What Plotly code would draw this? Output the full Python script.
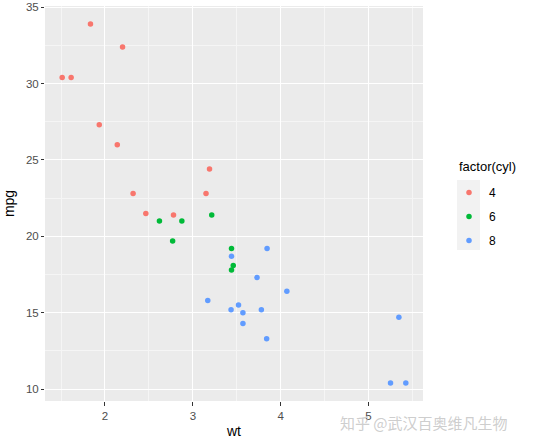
import plotly.graph_objects as go

wt = [2.620, 2.875, 2.320, 3.215, 3.440, 3.460, 3.570, 3.190, 3.150, 3.440, 3.440,
      4.070, 3.730, 3.780, 5.250, 5.424, 5.345, 2.200, 1.615, 1.835, 2.465, 3.520,
      3.435, 3.840, 3.845, 1.935, 2.140, 1.513, 3.170, 2.770, 3.570, 2.780]
mpg = [21.0, 21.0, 22.8, 21.4, 18.7, 18.1, 14.3, 24.4, 22.8, 19.2, 17.8,
       16.4, 17.3, 15.2, 10.4, 10.4, 14.7, 32.4, 30.4, 33.9, 21.5, 15.5,
       15.2, 13.3, 19.2, 27.3, 26.0, 30.4, 15.8, 19.7, 15.0, 21.4]
cyl = [6, 6, 4, 6, 8, 6, 8, 4, 4, 6, 6,
       8, 8, 8, 8, 8, 8, 4, 4, 4, 4, 8,
       8, 8, 8, 4, 4, 4, 8, 6, 8, 4]
levels = [4, 6, 8]
colors = {4: "#F8766D", 6: "#00BA38", 8: "#619CFF"}

W, H = 537, 445
ML, MR, MT, MB = 45, 114, 6, 44
PW, PH = W - ML - MR, H - MT - MB

def px(x):
    return (x - ML) / PW

def py(y):
    return (H - MB - y) / PH

fig = go.Figure()
for lv in levels:
    xs = [w for w, c in zip(wt, cyl) if c == lv]
    ys = [m for m, c in zip(mpg, cyl) if c == lv]
    fig.add_trace(go.Scatter(x=xs, y=ys, mode="markers", name=str(lv), legendgroup=str(lv),
                             marker=dict(color=colors[lv], size=5.5, line=dict(width=0))))

xr = [min(wt) - 0.05 * (max(wt) - min(wt)), max(wt) + 0.05 * (max(wt) - min(wt))]
yr = [min(mpg) - 0.05 * (max(mpg) - min(mpg)), max(mpg) + 0.05 * (max(mpg) - min(mpg))]

axis_common = dict(showline=False, zeroline=False, gridcolor="white", gridwidth=1.1,
                   ticks="outside", tickcolor="#333333", tickwidth=1,
                   automargin=False,
                   tickfont=dict(family="Liberation Sans, Arial", size=11.5, color="#4D4D4D"))

fig.update_layout(
    width=W, height=H,
    margin=dict(l=ML, r=MR, t=MT, b=MB),
    paper_bgcolor="white", plot_bgcolor="#EBEBEB",
    font=dict(family="Liberation Sans, Arial", color="black"),
    xaxis=dict(range=xr, dtick=1, tick0=0, ticklen=4,
               minor=dict(dtick=0.5, tick0=0, showgrid=True, gridcolor="#F5F5F5", gridwidth=0.6, ticks=""),
               title=dict(text="wt", font=dict(size=14), standoff=5), **axis_common),
    yaxis=dict(range=yr, dtick=5, tick0=0, ticklen=3,
               minor=dict(dtick=2.5, tick0=0, showgrid=True, gridcolor="#F5F5F5", gridwidth=0.6, ticks=""),
               title=dict(text="mpg", font=dict(size=14), standoff=8), **axis_common),
    legend=dict(x=px(449), xanchor="left", y=py(178), yanchor="top",
                bgcolor="rgba(0,0,0,0)", font=dict(size=12), itemsizing="trace",
                tracegroupgap=5, traceorder="grouped"),
    showlegend=True,
)

fig.add_annotation(text="factor(cyl)", xref="paper", yref="paper",
                   x=px(457), xanchor="left", y=py(167), yanchor="middle",
                   showarrow=False, font=dict(size=13, color="black"))

fig.add_shape(type="rect", xref="paper", yref="paper",
              x0=px(457), x1=px(480), y0=py(250), y1=py(180),
              fillcolor="#F2F2F2", line=dict(width=0), layer="below")

fig.add_annotation(text="知乎 @武汉百奥维凡生物", xref="paper", yref="paper",
                   x=px(510), xanchor="right", y=py(422), yanchor="middle",
                   showarrow=False,
                   font=dict(family="Noto Sans CJK SC", size=15, color="rgba(200,200,200,0.9)"))

fig.write_html("out.html", config={"displayModeBar": False},
               post_script="document.body.style.margin='0';")
